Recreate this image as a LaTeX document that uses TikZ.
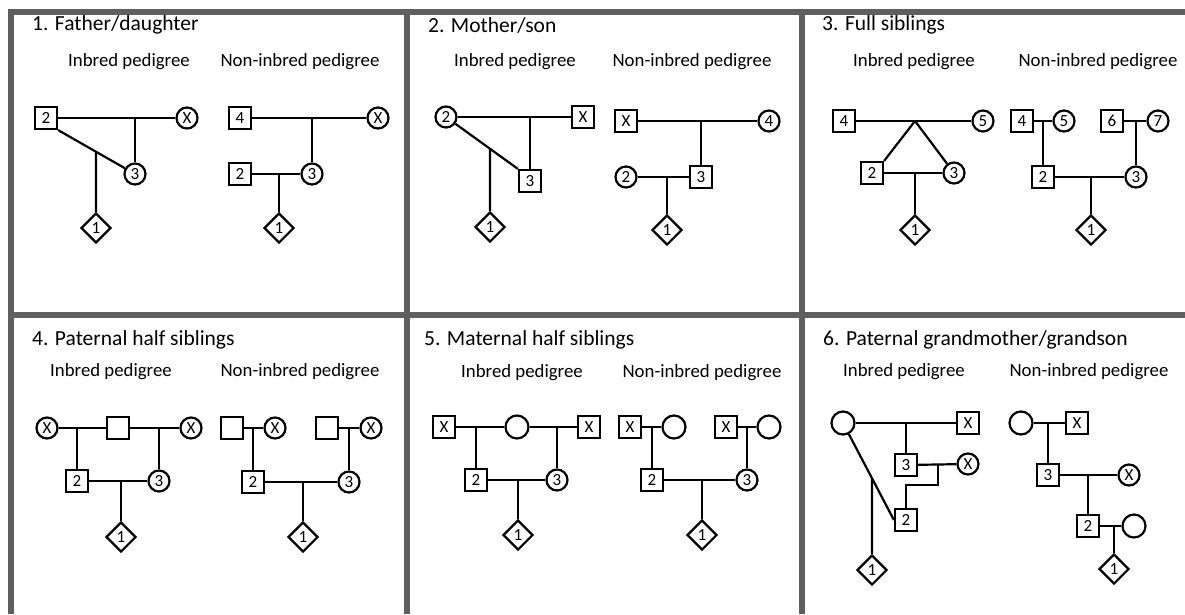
\documentclass[tikz,border=0pt]{standalone}
\usepackage{fontspec}
\setmainfont{Carlito}
\usetikzlibrary{shapes.geometric}
\begin{document}
\begin{tikzpicture}[x=1pt,y=-1pt,
  frame/.style={line width=6pt,draw={rgb,255:red,95;green,95;blue,95}},
  ln/.style={line width=2.2pt,draw=black},
  lab/.style={font=\fontsize{17}{17}\selectfont},
  sq/.style={rectangle,draw=black,line width=2.2pt,fill=white,minimum size=22pt,inner sep=0pt,lab},
  ci/.style={circle,draw=black,line width=2.2pt,fill=white,minimum size=21pt,inner sep=0pt,lab},
  ce/.style={circle,draw=black,line width=2.2pt,fill=white,minimum size=23pt,inner sep=0pt},
  dm/.style={diamond,draw=black,line width=2.2pt,fill=white,minimum width=30pt,minimum height=30pt,inner sep=0pt,lab},
  ttl/.style={anchor=west,inner sep=0pt,font=\fontsize{21.5}{23}\selectfont},
  sub/.style={inner sep=0pt,font=\fontsize{18.8}{20}\selectfont}]
\useasboundingbox (0,0) rectangle (1185,614);
\fill[white] (0,0) rectangle (1185,614);
% frames
\draw[frame] (11,614) -- (11,12) -- (1185,12);
\draw[frame] (11,315) -- (1185,315);
\draw[frame] (407,12) -- (407,614);
\draw[frame] (802,12) -- (802,614);

% ---------- Panel 1 ----------
\node[ttl] (t1) at (32,25) {1. Father/daughter};
\node[sub] (t1a) at (129,62) {Inbred pedigree};
\node[sub] (t1b) at (300,62) {Non-inbred pedigree};
\node[sq] (p1s2) at (46,118) {2};
\node[ci] (p1x) at (187,118) {X};
\node[ci] (p1c3) at (135,174) {3};
\node[dm] (p1d1) at (96,228) {1};
\draw[ln] (p1s2) -- (p1x);
\coordinate (p1m) at (135,118);
\draw[ln] (p1m) -- (p1c3);
\draw[ln] (p1s2.south east) -- (p1c3);
\coordinate (p1j) at (intersection of p1s2.south east--p1c3 and p1d1--p1d1.north);
\draw[ln] (p1j) -- (p1d1);
\node[sq] (p1ns4) at (240,118) {4};
\node[ci] (p1nx) at (378,118) {X};
\node[ci] (p1nc3) at (312,174) {3};
\node[sq] (p1ns2) at (240,174) {2};
\node[dm] (p1nd1) at (279,228) {1};
\draw[ln] (p1ns4) -- (p1nx);
\coordinate (p1nm) at (312,118);
\draw[ln] (p1nm) -- (p1nc3);
\draw[ln] (p1ns2) -- (p1nc3);
\coordinate (p1nk) at (279,174);
\draw[ln] (p1nk) -- (p1nd1);

% ---------- Panel 2 ----------
\node[ttl] (t2) at (428,25) {2. Mother/son};
\node[sub] (t2a) at (515,62) {Inbred pedigree};
\node[sub] (t2b) at (692,62) {Non-inbred pedigree};
\node[ci] (p2c2) at (446,117) {2};
\node[sq] (p2x) at (583,117) {X};
\node[sq] (p2s3) at (530,181) {3};
\node[dm] (p2d1) at (490,227) {1};
\draw[ln] (p2c2) -- (p2x);
\coordinate (p2m) at (530,117);
\draw[ln] (p2m) -- (p2s3);
\draw[ln] (p2c2) -- (p2s3.north west);
\coordinate (p2j) at (intersection of p2c2--p2s3.north west and p2d1--p2d1.north);
\draw[ln] (p2j) -- (p2d1);
\node[sq] (p2nx) at (626,121) {X};
\node[ci] (p2nc4) at (769,121) {4};
\node[sq] (p2ns3) at (701,177) {3};
\node[ci] (p2nc2) at (626,177) {2};
\node[dm] (p2nd1) at (667,230) {1};
\draw[ln] (p2nx) -- (p2nc4);
\coordinate (p2nm) at (701,121);
\draw[ln] (p2nm) -- (p2ns3);
\draw[ln] (p2nc2) -- (p2ns3);
\coordinate (p2nk) at (667,177);
\draw[ln] (p2nk) -- (p2nd1);

% ---------- Panel 3 ----------
\node[ttl] (t3) at (822,25) {3. Full siblings};
\node[sub] (t3a) at (914,62) {Inbred pedigree};
\node[sub] (t3b) at (1098,62) {Non-inbred pedigree};
\node[sq] (p3s4) at (844,121) {4};
\node[ci] (p3c5) at (983,121) {5};
\node[sq] (p3s2) at (872,173) {2};
\node[ci] (p3c3) at (954,173) {3};
\node[dm] (p3d1) at (915,230) {1};
\draw[ln] (p3s4) -- (p3c5);
\coordinate (p3a) at (915,121);
\draw[ln] (p3a) -- (p3s2.north east);
\draw[ln] (p3a) -- (p3c3);
\draw[ln] (p3s2) -- (p3c3);
\coordinate (p3k) at (915,173);
\draw[ln] (p3k) -- (p3d1);
\node[sq] (p3ns4) at (1022,121) {4};
\node[ci] (p3nc5) at (1064,121) {5};
\node[sq] (p3ns6) at (1112,121) {6};
\node[ci] (p3nc7) at (1158,121) {7};
\node[sq] (p3ns2) at (1043,177) {2};
\node[ci] (p3nc3) at (1136,177) {3};
\node[dm] (p3nd1) at (1091,230) {1};
\draw[ln] (p3ns4) -- (p3nc5);
\coordinate (p3nm1) at (1043,121);
\draw[ln] (p3nm1) -- (p3ns2);
\draw[ln] (p3ns6) -- (p3nc7);
\coordinate (p3nm2) at (1136,121);
\draw[ln] (p3nm2) -- (p3nc3);
\draw[ln] (p3ns2) -- (p3nc3);
\coordinate (p3nk) at (1091,177);
\draw[ln] (p3nk) -- (p3nd1);

% ---------- Panel 4 ----------
\node[ttl] (t4) at (32,340) {4. Paternal half siblings};
\node[sub] (t4a) at (111,372) {Inbred pedigree};
\node[sub] (t4b) at (300,372) {Non-inbred pedigree};
\node[ci] (p4x1) at (47,428) {X};
\node[sq] (p4s) at (118,428) {};
\node[ci] (p4x2) at (191,428) {X};
\node[sq] (p4s2) at (77,481) {2};
\node[ci] (p4c3) at (159,481) {3};
\node[dm] (p4d1) at (121,537) {1};
\draw[ln] (p4x1) -- (p4s);
\draw[ln] (p4s) -- (p4x2);
\coordinate (p4m1) at (77,428);
\draw[ln] (p4m1) -- (p4s2);
\coordinate (p4m2) at (159,428);
\draw[ln] (p4m2) -- (p4c3);
\draw[ln] (p4s2) -- (p4c3);
\coordinate (p4k) at (121,481);
\draw[ln] (p4k) -- (p4d1);
\node[sq] (p4nsa) at (232,428) {};
\node[ci] (p4nxa) at (275,428) {X};
\node[sq] (p4nsb) at (327,428) {};
\node[ci] (p4nxb) at (371,428) {X};
\node[sq] (p4ns2) at (253,482) {2};
\node[ci] (p4nc3) at (349,482) {3};
\node[dm] (p4nd1) at (303,537) {1};
\draw[ln] (p4nsa) -- (p4nxa);
\coordinate (p4nm1) at (253,428);
\draw[ln] (p4nm1) -- (p4ns2);
\draw[ln] (p4nsb) -- (p4nxb);
\coordinate (p4nm2) at (349,428);
\draw[ln] (p4nm2) -- (p4nc3);
\draw[ln] (p4ns2) -- (p4nc3);
\coordinate (p4nk) at (303,482);
\draw[ln] (p4nk) -- (p4nd1);

% ---------- Panel 5 ----------
\node[ttl] (t5) at (424,340) {5. Maternal half siblings};
\node[sub] (t5a) at (522,373) {Inbred pedigree};
\node[sub] (t5b) at (702,373) {Non-inbred pedigree};
\node[sq] (p5x1) at (444,427) {X};
\node[ce] (p5c) at (517,427) {};
\node[sq] (p5x2) at (589,427) {X};
\node[sq] (p5s2) at (476,480) {2};
\node[ci] (p5c3) at (557,480) {3};
\node[dm] (p5d1) at (518,535) {1};
\draw[ln] (p5x1) -- (p5c);
\draw[ln] (p5c) -- (p5x2);
\coordinate (p5m1) at (476,427);
\draw[ln] (p5m1) -- (p5s2);
\coordinate (p5m2) at (557,427);
\draw[ln] (p5m2) -- (p5c3);
\draw[ln] (p5s2) -- (p5c3);
\coordinate (p5k) at (518,480);
\draw[ln] (p5k) -- (p5d1);
\node[sq] (p5nxa) at (630,427) {X};
\node[ce] (p5nca) at (674,427) {};
\node[sq] (p5nxb) at (726,427) {X};
\node[ce] (p5ncb) at (769,427) {};
\node[sq] (p5ns2) at (652,480) {2};
\node[ci] (p5nc3) at (747,480) {3};
\node[dm] (p5nd1) at (702,535) {1};
\draw[ln] (p5nxa) -- (p5nca);
\coordinate (p5nm1) at (652,427);
\draw[ln] (p5nm1) -- (p5ns2);
\draw[ln] (p5nxb) -- (p5ncb);
\coordinate (p5nm2) at (747,427);
\draw[ln] (p5nm2) -- (p5nc3);
\draw[ln] (p5ns2) -- (p5nc3);
\coordinate (p5nk) at (702,480);
\draw[ln] (p5nk) -- (p5nd1);

% ---------- Panel 6 ----------
\node[ttl] (t6) at (823,340) {6. Paternal grandmother/grandson};
\node[sub] (t6a) at (904,372) {Inbred pedigree};
\node[sub] (t6b) at (1089,372) {Non-inbred pedigree};
\node[ce] (p6g) at (843,423) {};
\node[sq] (p6x) at (968,423) {X};
\node[sq] (p6s3) at (906,465) {3};
\node[ci] (p6cx) at (968,464) {X};
\node[sq] (p6s2) at (906,520) {2};
\node[dm] (p6d1) at (872,570) {1};
\draw[ln] (p6g) -- (p6x);
\coordinate (p6m) at (906,423);
\draw[ln] (p6m) -- (p6s3);
\draw[ln] (p6s3) -- (p6cx);
\coordinate (p6k) at (938,464);
\coordinate (p6kb) at (938,485);
\draw[ln] (p6k) -- (p6kb) -| (p6s2);
\draw[ln] (p6g) -- (p6s2.west);
\coordinate (p6j) at (intersection of p6g--p6s2.west and p6d1--p6d1.north);
\draw[ln] (p6j) -- (p6d1);
\node[ce] (p6ng) at (1021,423) {};
\node[sq] (p6nx) at (1077,423) {X};
\node[sq] (p6ns3) at (1048,475) {3};
\node[ci] (p6ncx) at (1129,475) {X};
\node[sq] (p6ns2) at (1088,526) {2};
\node[ce] (p6nw) at (1134,526) {};
\node[dm] (p6nd1) at (1114,569) {1};
\draw[ln] (p6ng) -- (p6nx);
\coordinate (p6nm1) at (1048,423);
\draw[ln] (p6nm1) -- (p6ns3);
\draw[ln] (p6ns3) -- (p6ncx);
\coordinate (p6nm2) at (1088,475);
\draw[ln] (p6nm2) -- (p6ns2);
\draw[ln] (p6ns2) -- (p6nw);
\coordinate (p6nk) at (1114,526);
\draw[ln] (p6nk) -- (p6nd1);
\end{tikzpicture}
\end{document}
